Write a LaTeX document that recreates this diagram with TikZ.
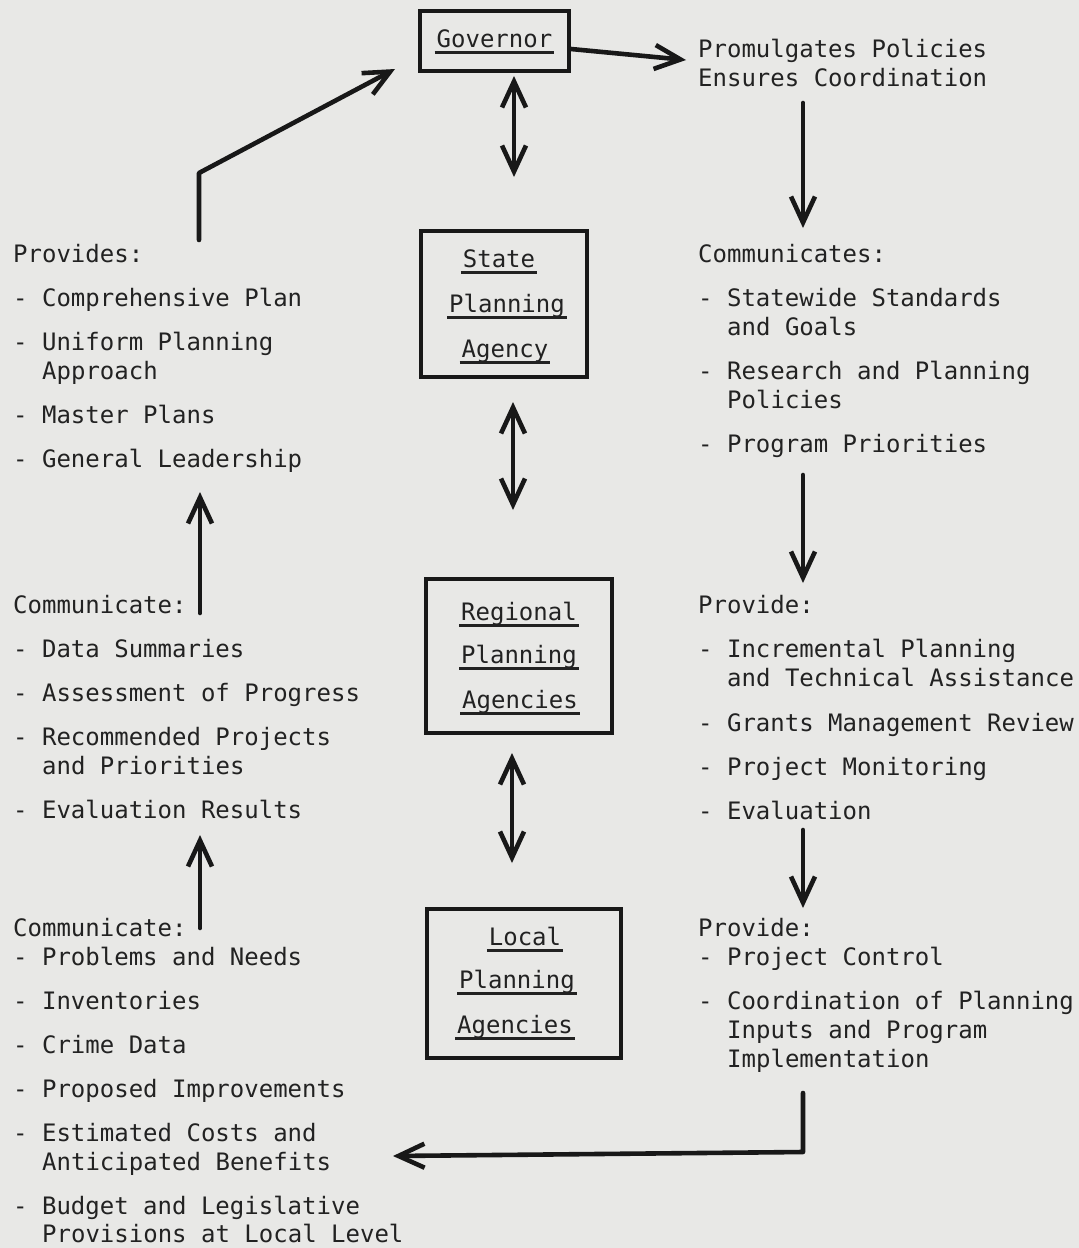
\documentclass[tikz,border=0pt]{standalone}
\usepackage{fontspec}
\newfontfamily\tw{DejaVu Sans Mono}
\usetikzlibrary{arrows.meta}
\definecolor{paper}{RGB}{232,232,230}
\definecolor{ink}{RGB}{34,34,34}
\definecolor{pen}{RGB}{24,24,24}
\newcommand\ulin[1]{\setbox0=\hbox{#1}\rlap{\kern-2pt\rule[-6.5pt]{\dimexpr\wd0+4pt\relax}{2.6pt}}\box0}
\tikzset{
  txt/.style={anchor=base west, inner sep=0pt, font=\tw\fontsize{24}{29}\selectfont, text=ink},
  btxt/.style={txt, anchor=base},
  box/.style={draw=pen, line width=3.2pt, inner sep=0pt},
  tip/.tip={Straight Barb[length=26pt,width=24pt]},
  arr/.style={draw=pen, line width=4.6pt, line cap=round, line join=round, -tip},
  dbl/.style={arr, tip-tip}
}
\begin{document}
\begin{tikzpicture}[x=1pt,y=-1pt]
\fill[paper] (0,0) rectangle (1079,1248);
\useasboundingbox (0,0) rectangle (1079,1248);

% boxes
\node[box, minimum width=149pt, minimum height=60pt] (gov) at (494.5,41) {};
\node[btxt] (govt) at (494.5,47) {\ulin{Governor}};

\node[box, minimum width=166pt, minimum height=146pt] (spa) at (504,304) {};
\node[btxt] (spa1) at (499,267) {\ulin{State}};
\node[btxt] (spa2) at (507,312) {\ulin{Planning}};
\node[btxt] (spa3) at (505,357) {\ulin{Agency}};

\node[box, minimum width=186pt, minimum height=154pt] (rpa) at (519,656) {};
\node[btxt] (rpa1) at (519,620) {\ulin{Regional}};
\node[btxt] (rpa2) at (519,663) {\ulin{Planning}};
\node[btxt] (rpa3) at (520,708) {\ulin{Agencies}};

\node[box, minimum width=194pt, minimum height=149pt] (lpa) at (524,983.5) {};
\node[btxt] (lpa1) at (525,945) {\ulin{Local}};
\node[btxt] (lpa2) at (517,988) {\ulin{Planning}};
\node[btxt] (lpa3) at (515,1033) {\ulin{Agencies}};

% right column
\node[txt] (r01) at (698,57) {Promulgates Policies};
\node[txt] (r02) at (698,86) {Ensures Coordination};
\node[txt] (r03) at (698,262) {Communicates:};
\node[txt] (r04) at (698,306) {- Statewide Standards};
\node[txt] (r05) at (727,335) {and Goals};
\node[txt] (r06) at (698,379) {- Research and Planning};
\node[txt] (r07) at (727,408) {Policies};
\node[txt] (r08) at (698,452) {- Program Priorities};
\node[txt] (r09) at (698,613) {Provide:};
\node[txt] (r10) at (698,657) {- Incremental Planning};
\node[txt] (r11) at (727,686) {and Technical Assistance};
\node[txt] (r12) at (698,731) {- Grants Management Review};
\node[txt] (r13) at (698,775) {- Project Monitoring};
\node[txt] (r14) at (698,819) {- Evaluation};
\node[txt] (r15) at (698,936) {Provide:};
\node[txt] (r16) at (698,965) {- Project Control};
\node[txt] (r17) at (698,1009) {- Coordination of Planning};
\node[txt] (r18) at (727,1038) {Inputs and Program};
\node[txt] (r19) at (727,1067) {Implementation};

% left column
\node[txt] (l01) at (13,262) {Provides:};
\node[txt] (l02) at (13,306) {- Comprehensive Plan};
\node[txt] (l03) at (13,350) {- Uniform Planning};
\node[txt] (l04) at (42,379) {Approach};
\node[txt] (l05) at (13,423) {- Master Plans};
\node[txt] (l06) at (13,467) {- General Leadership};
\node[txt] (l07) at (13,613) {Communicate:};
\node[txt] (l08) at (13,657) {- Data Summaries};
\node[txt] (l09) at (13,701) {- Assessment of Progress};
\node[txt] (l10) at (13,745) {- Recommended Projects};
\node[txt] (l11) at (42,774) {and Priorities};
\node[txt] (l12) at (13,818) {- Evaluation Results};
\node[txt] (l13) at (13,936) {Communicate:};
\node[txt] (l14) at (13,965) {- Problems and Needs};
\node[txt] (l15) at (13,1009) {- Inventories};
\node[txt] (l16) at (13,1053) {- Crime Data};
\node[txt] (l17) at (13,1097) {- Proposed Improvements};
\node[txt] (l18) at (13,1141) {- Estimated Costs and};
\node[txt] (l19) at (42,1170) {Anticipated Benefits};
\node[txt] (l20) at (13,1214) {- Budget and Legislative};
\node[txt] (l21) at (42,1242) {Provisions at Local Level};

% connector end points
\coordinate (pa0) at (199,240);
\coordinate (pa1) at (199,173);
\coordinate (pa2) at (395,69);
\coordinate (ga0) at (571,49);
\coordinate (ga1) at (686,60);
\coordinate (d1a) at (514,76);
\coordinate (d1b) at (514,177);
\coordinate (d2a) at (513,402);
\coordinate (d2b) at (513,510);
\coordinate (d3a) at (512,753);
\coordinate (d3b) at (512,863);
\coordinate (ra0) at (803,103);
\coordinate (ra1) at (803,228);
\coordinate (rb0) at (803,475);
\coordinate (rb1) at (803,583);
\coordinate (rc0) at (803,830);
\coordinate (rc1) at (803,908);
\coordinate (rd0) at (803,1093);
\coordinate (rd1) at (803,1152);
\coordinate (rd2) at (393,1156);
\coordinate (la0) at (200,613);
\coordinate (la1) at (200,492);
\coordinate (lb0) at (200,928);
\coordinate (lb1) at (200,835);

% connectors
\draw[arr] (pa0) -- (pa1) -- (pa2);
\draw[arr] (ga0) -- (ga1);
\draw[dbl] (d1a) -- (d1b);
\draw[dbl] (d2a) -- (d2b);
\draw[dbl] (d3a) -- (d3b);
\draw[arr] (ra0) -- (ra1);
\draw[arr] (rb0) -- (rb1);
\draw[arr] (rc0) -- (rc1);
\draw[arr] (rd0) -- (rd1) -- (rd2);
\draw[arr] (la0) -- (la1);
\draw[arr] (lb0) -- (lb1);
\end{tikzpicture}
\end{document}
